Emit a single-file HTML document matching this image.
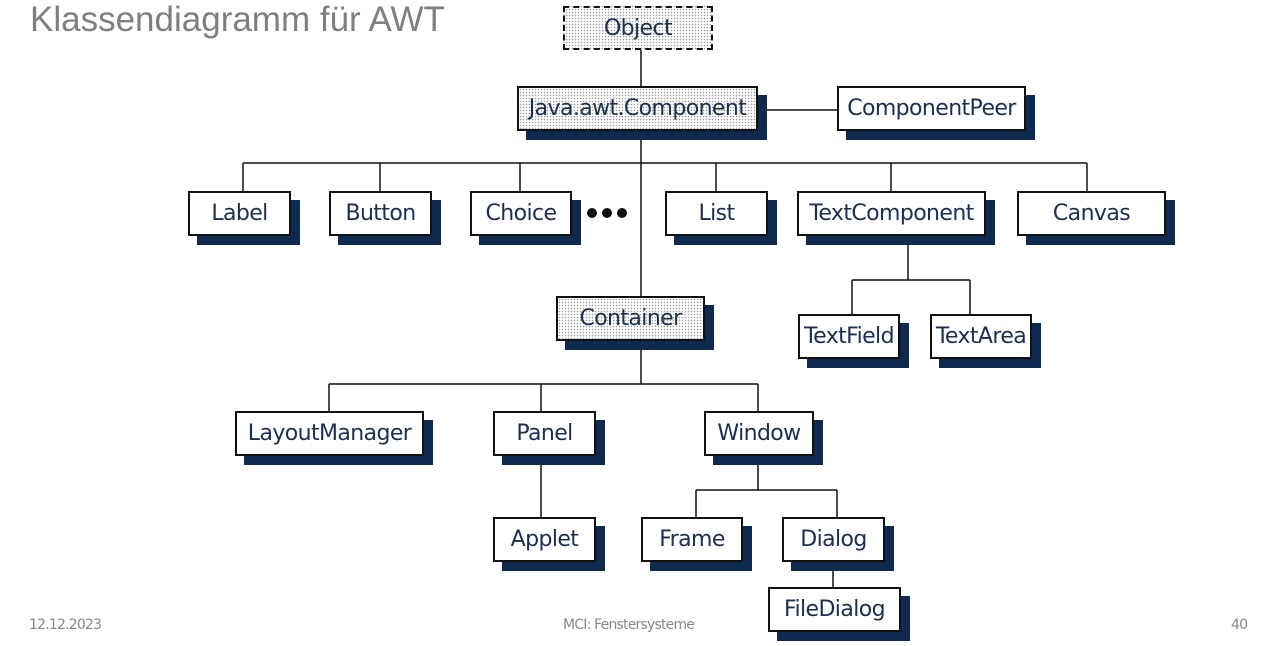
<!DOCTYPE html>
<html><head><meta charset="utf-8"><style>
body{margin:0;width:1283px;height:646px;background:#fff;position:relative;overflow:hidden;font-family:"DejaVu Sans","Liberation Sans",sans-serif}
.b{position:absolute;box-sizing:border-box;border:2px solid #111;background:#fff;color:#1b2f4f;font-size:22px;display:flex;align-items:center;justify-content:center;letter-spacing:-0.6px}
.s{position:absolute;background:#0e2a4e}
.st{background-color:#fff;background-image:radial-gradient(#999 0.6px,transparent 0.9px);background-size:3px 3px}
.t{position:absolute;color:#888;font-size:14px;font-family:"DejaVu Sans",sans-serif;letter-spacing:-0.8px}
svg{position:absolute;left:0;top:0}
</style></head><body>
<div style="position:absolute;left:30px;top:0px;font-family:'Liberation Sans',sans-serif;font-size:35px;color:#7f7f7f">Klassendiagramm für AWT</div>
<svg width="1283" height="646"><g stroke="#111" stroke-width="1.5" fill="none">
<path d="M641 50V297M757 110H837M243 163H1087M243 163V191M380 163V191M520 163V191M716 163V191M891 163V191M1087 163V191"/>
<path d="M908 235V280M852 280H970M852 280V314M970 280V314"/>
<path d="M641 341V384M329 384H758M329 384V411M541 384V411M758 384V411"/>
<path d="M541 455V517M758 455V490M696 490H837M696 490V517M837 490V517M833 561V587"/>
</g><g fill="#111"><circle cx="592" cy="213" r="5"/><circle cx="607" cy="213" r="5"/><circle cx="622" cy="213" r="5"/></g></svg>

<div class="b st" style="left:563px;top:6px;width:150px;height:44px;border-style:dashed">Object</div>

<div class="s" style="left:526px;top:95px;width:241px;height:45px"></div>
<div class="b st" style="left:517px;top:86px;width:241px;height:45px">Java.awt.Component</div>
<div class="s" style="left:846px;top:95px;width:189px;height:45px"></div>
<div class="b" style="left:837px;top:86px;width:189px;height:45px">ComponentPeer</div>

<div class="s" style="left:197px;top:200px;width:103px;height:45px"></div>
<div class="b" style="left:188px;top:191px;width:103px;height:45px">Label</div>
<div class="s" style="left:338px;top:200px;width:103px;height:45px"></div>
<div class="b" style="left:329px;top:191px;width:103px;height:45px">Button</div>
<div class="s" style="left:479px;top:200px;width:102px;height:45px"></div>
<div class="b" style="left:470px;top:191px;width:102px;height:45px">Choice</div>
<div class="s" style="left:674px;top:200px;width:103px;height:45px"></div>
<div class="b" style="left:665px;top:191px;width:103px;height:45px">List</div>
<div class="s" style="left:806px;top:200px;width:189px;height:45px"></div>
<div class="b" style="left:797px;top:191px;width:189px;height:45px">TextComponent</div>
<div class="s" style="left:1026px;top:200px;width:149px;height:45px"></div>
<div class="b" style="left:1017px;top:191px;width:149px;height:45px">Canvas</div>

<div class="s" style="left:565px;top:305px;width:149px;height:45px"></div>
<div class="b st" style="left:556px;top:296px;width:149px;height:45px">Container</div>

<div class="s" style="left:807px;top:323px;width:102px;height:45px"></div>
<div class="b" style="left:798px;top:314px;width:102px;height:45px">TextField</div>
<div class="s" style="left:939px;top:323px;width:102px;height:45px"></div>
<div class="b" style="left:930px;top:314px;width:102px;height:45px">TextArea</div>

<div class="s" style="left:244px;top:420px;width:189px;height:45px"></div>
<div class="b" style="left:235px;top:411px;width:189px;height:45px">LayoutManager</div>
<div class="s" style="left:502px;top:420px;width:103px;height:45px"></div>
<div class="b" style="left:493px;top:411px;width:103px;height:45px">Panel</div>
<div class="s" style="left:713px;top:420px;width:110px;height:45px"></div>
<div class="b" style="left:704px;top:411px;width:110px;height:45px">Window</div>

<div class="s" style="left:502px;top:526px;width:103px;height:45px"></div>
<div class="b" style="left:493px;top:517px;width:103px;height:45px">Applet</div>
<div class="s" style="left:650px;top:526px;width:102px;height:45px"></div>
<div class="b" style="left:641px;top:517px;width:102px;height:45px">Frame</div>
<div class="s" style="left:791px;top:526px;width:103px;height:45px"></div>
<div class="b" style="left:782px;top:517px;width:103px;height:45px">Dialog</div>
<div class="s" style="left:777px;top:596px;width:133px;height:45px"></div>
<div class="b" style="left:768px;top:587px;width:133px;height:45px">FileDialog</div>

<div class="t" style="left:29px;top:617px">12.12.2023</div>
<div class="t" style="left:563px;top:617px">MCI: Fenstersysteme</div>
<div class="t" style="left:1231px;top:617px">40</div>
</body></html>
